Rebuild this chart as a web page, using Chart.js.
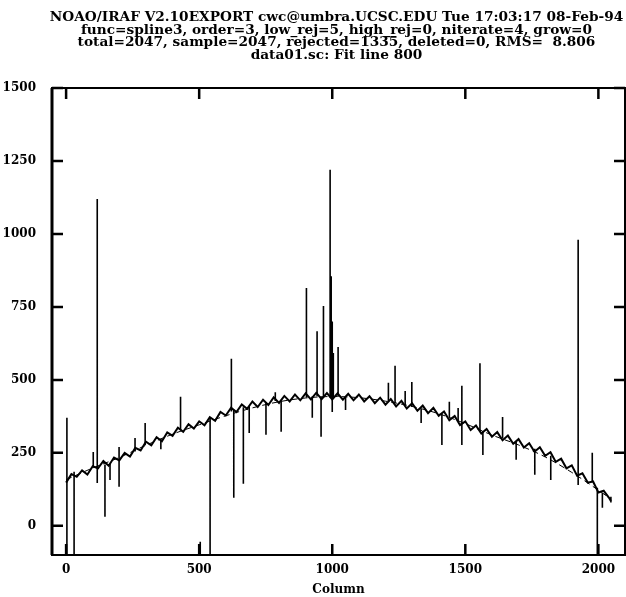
<!DOCTYPE html>
<html>
<head>
<meta charset="utf-8">
<script src="https://cdn.jsdelivr.net/npm/chart.js@4.4.0/dist/chart.umd.min.js"></script>
<style>
  html, body { margin: 0; padding: 0; background: #fff; }
  canvas { display: block; }
</style>
</head>
<body>
<canvas id="plot" width="626" height="597"></canvas>
<script>
const titleLines = [
  'NOAO/IRAF V2.10EXPORT cwc@umbra.UCSC.EDU Tue 17:03:17 08-Feb-94',
  'func=spline3, order=3, low_rej=5, high_rej=0, niterate=4, grow=0',
  'total=2047, sample=2047, rejected=1335, deleted=0, RMS=  8.806',
  'data01.sc: Fit line 800'
];

// data trace, read every ~20 columns
const columns = [
  0, 20, 40, 60, 80, 100, 120, 140, 160, 180, 200, 220, 240, 260, 280, 300, 320, 340, 360, 380,
  400, 420, 440, 460, 480, 500, 520, 540, 560, 580, 600, 620, 640, 660, 680, 700, 720, 740, 760, 780,
  800, 820, 840, 860, 880, 900, 920, 940, 960, 980, 1000, 1020, 1040, 1060, 1080, 1100, 1120, 1140, 1160, 1180,
  1200, 1220, 1240, 1260, 1280, 1300, 1320, 1340, 1360, 1380, 1400, 1420, 1440, 1460, 1480, 1500, 1520, 1540, 1560, 1580,
  1600, 1620, 1640, 1660, 1680, 1700, 1720, 1740, 1760, 1780, 1800, 1820, 1840, 1860, 1880, 1900, 1920, 1940, 1960, 1980,
  2000, 2020, 2040, 2047
];
const counts = [
  148, 177, 168, 190, 176, 204, 197, 222, 206, 234, 224, 250, 237, 267, 258, 288, 276, 304, 290, 320,
  308, 336, 322, 348, 333, 358, 344, 372, 360, 390, 378, 405, 390, 416, 401, 426, 407, 432, 414, 440,
  421, 445, 426, 450, 430, 454, 433, 456, 434, 455, 433, 454, 432, 452, 430, 450, 426, 444, 420, 439,
  415, 434, 409, 428, 402, 420, 394, 412, 386, 404, 377, 392, 362, 376, 345, 358, 328, 344, 316, 332,
  305, 321, 293, 309, 281, 297, 268, 283, 254, 269, 240, 252, 219, 230, 197, 207, 172, 180, 148, 152,
  114, 120, 96, 85
];

// spline3 fit
const fitColumns = [0, 100, 200, 300, 400, 500, 600, 700, 800, 900, 1000, 1100, 1200, 1300, 1400, 1500, 1600, 1700, 1800, 1900, 2000, 2047];
const fitCounts = [158, 198, 234, 276, 314, 346, 377, 404, 425, 438, 443, 439, 427, 409, 384, 350, 311, 277, 236, 183, 122, 92];

// cosmic rays / bad pixels: each spike runs from low to high
const spikeColumns = [3, 30, 102, 117, 146, 165, 199, 259, 297, 356, 430, 504, 541, 621, 630, 666, 688, 751, 786, 808,
  903, 925, 943, 958, 967, 992, 996, 1000, 1004, 1022, 1050, 1211, 1236, 1274, 1299, 1334, 1412, 1440, 1473, 1487,
  1555, 1566, 1640, 1691, 1761, 1821, 1924, 1977, 1996, 2015, 2047];
const spikeLow = [-120, -120, 200, 147, 31, 157, 134, 255, 276, 262, 328, -120, -120, 392, 96, 144, 318, 312, 428, 322,
  440, 370, 444, 305, 440, 440, 440, 390, 440, 442, 397, 425, 420, 412, 408, 352, 277, 372, 358, 277,
  325, 243, 300, 226, 175, 157, 140, 150, -120, 62, 80];
const spikeHigh = [370, 185, 253, 1120, 210, 214, 270, 301, 352, 298, 442, -55, 368, 572, 398, 406, 410, 422, 458, 430,
  815, 443, 667, 444, 753, 1220, 855, 700, 592, 613, 441, 490, 548, 462, 493, 400, 383, 425, 404, 480,
  557, 325, 373, 288, 264, 240, 980, 250, 130, 112, 100];

const xTickValues = [0, 500, 1000, 1500, 2000];
const yTickValues = [0, 250, 500, 750, 1000, 1250, 1500];

const spikePoints = [];
spikeColumns.forEach((c, i) => {
  spikePoints.push({ x: c, y: spikeLow[i] }, { x: c, y: spikeHigh[i] }, { x: c, y: null });
});

const serif = '"DejaVu Serif", "Liberation Serif", serif';

const irafTitle = {
  id: 'irafTitle',
  afterDraw(chart) {
    const { ctx, chartArea } = chart;
    const cx = (chartArea.left + chartArea.right) / 2 - 2;
    ctx.save();
    ctx.fillStyle = '#000';
    ctx.textAlign = 'center';
    ctx.textBaseline = 'alphabetic';
    ctx.font = 'bold 13.7px ' + serif;
    titleLines.forEach((line, i) => {
      ctx.fillText(line, cx, 21 + i * 12.5);
    });
    ctx.restore();
  }
};

// IRAF draws its tick marks inside the frame, on all four sides
const irafFrame = {
  id: 'irafFrame',
  afterDatasetsDraw(chart) {
    const { ctx, chartArea: a, scales: { x, y } } = chart;
    ctx.save();
    ctx.strokeStyle = '#000';
    ctx.lineWidth = 2;
    ctx.strokeRect(a.left, a.top, a.right - a.left, a.bottom - a.top);
    ctx.lineWidth = 2.5;
    ctx.beginPath();
    xTickValues.forEach(v => {
      const px = x.getPixelForValue(v);
      ctx.moveTo(px, a.bottom); ctx.lineTo(px, a.bottom - 11);
      ctx.moveTo(px, a.top); ctx.lineTo(px, a.top + 11);
    });
    yTickValues.forEach(v => {
      const py = y.getPixelForValue(v);
      ctx.moveTo(a.left, py); ctx.lineTo(a.left + 11, py);
      ctx.moveTo(a.right, py); ctx.lineTo(a.right - 11, py);
    });
    ctx.stroke();
    ctx.lineWidth = 3;
    ctx.beginPath();
    ctx.moveTo(a.left, a.top); ctx.lineTo(a.left, a.bottom);
    ctx.stroke();
    ctx.restore();
  }
};

new Chart(document.getElementById('plot'), {
  type: 'line',
  data: {
    datasets: [
      {
        label: 'fit',
        data: fitColumns.map((c, i) => ({ x: c, y: fitCounts[i] })),
        borderColor: '#000',
        borderWidth: 1,
        borderDash: [6, 4],
        pointRadius: 0,
        cubicInterpolationMode: 'monotone'
      },
      {
        label: 'data',
        data: columns.map((c, i) => ({ x: c, y: counts[i] })),
        borderColor: '#000',
        borderWidth: 2,
        pointRadius: 0,
        tension: 0
      },
      {
        label: 'spikes',
        data: spikePoints,
        borderColor: '#000',
        borderWidth: 1.6,
        pointRadius: 0,
        spanGaps: false
      }
    ]
  },
  options: {
    responsive: false,
    animation: false,
    devicePixelRatio: 1,
    layout: { padding: { top: 88, right: 1, left: 0, bottom: 0 } },
    plugins: {
      legend: { display: false },
      tooltip: { enabled: false },
      title: { display: false }
    },
    scales: {
      x: {
        type: 'linear',
        min: -53,
        max: 2100,
        afterBuildTicks: (scale) => { scale.ticks = xTickValues.map(v => ({ value: v })); },
        afterFit: (scale) => { scale.height = 42; },
        grid: { display: false },
        border: { display: false },
        ticks: { color: '#000', padding: 0, callback: (v) => String(v), font: { family: serif, weight: 'bold', size: 12 } },
        title: { display: true, text: 'Column', color: '#000', padding: { top: 0, bottom: 0 }, font: { family: serif, weight: 'bold', size: 12 } }
      },
      y: {
        min: -100,
        max: 1500,
        afterBuildTicks: (scale) => { scale.ticks = yTickValues.map(v => ({ value: v })); },
        afterFit: (scale) => { scale.width = 52; },
        grid: { display: false },
        border: { display: false },
        ticks: { color: '#000', padding: 8, callback: (v) => String(v), font: { family: serif, weight: 'bold', size: 12 } }
      }
    }
  },
  plugins: [irafTitle, irafFrame]
});
</script>
</body>
</html>
